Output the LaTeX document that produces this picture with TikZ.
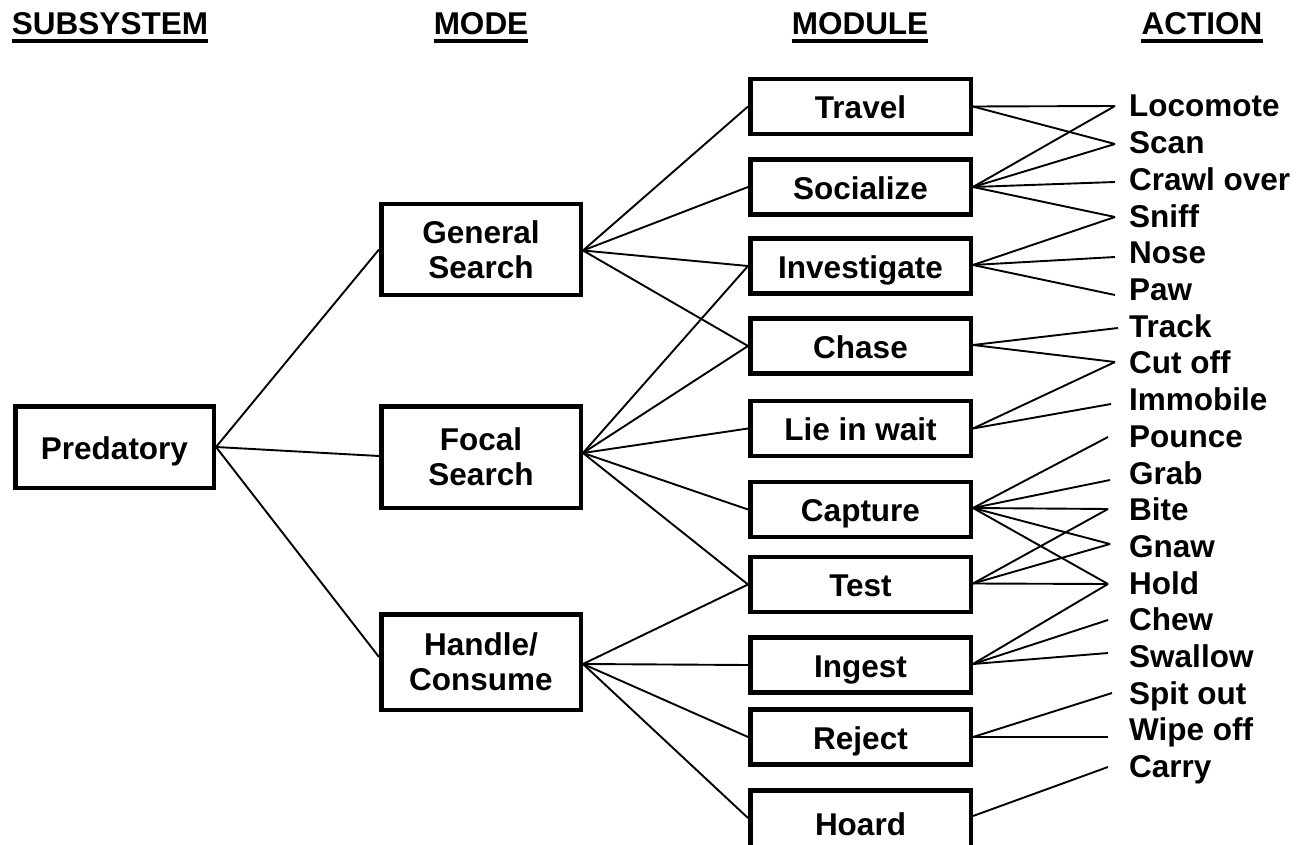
\documentclass[tikz,border=0pt]{standalone}
\usepackage{fontspec}
\setmainfont{Liberation Sans}
\begin{document}
\begin{tikzpicture}[x=1pt,y=-1pt,
  every node/.style={font=\fontsize{31.5}{35}\selectfont\bfseries},
  box/.style={draw, line width=4.5pt, inner sep=0pt, text height=24.6pt, text depth=0pt},
  modbox/.style={box, minimum width=220.5pt, minimum height=55pt},
  modebox/.style={draw, line width=4.5pt, inner sep=0pt, align=center, minimum width=199.5pt},
  act/.style={anchor=base west, inner sep=0pt},
  hdr/.style={anchor=base, inner sep=0pt},
  uline/.style={line width=3.5pt},
  link/.style={line width=1.9pt}
]
\useasboundingbox (0,0) rectangle (1299,845);

% column headings
\node[hdr] (h-sub) at (110,35) {SUBSYSTEM};
\node[hdr] (h-mode) at (481,35) {MODE};
\node[hdr] (h-mod) at (860,35) {MODULE};
\node[hdr] (h-act) at (1202,35) {ACTION};
\foreach \h in {h-sub,h-mode,h-mod,h-act}
  \draw[uline] ([yshift=-6pt]\h.base west) -- ([yshift=-6pt]\h.base east);

% subsystem
\node[box, minimum width=198.5pt, minimum height=81.5pt] (pred) at (114.5,447) {Predatory};

% modes
\node[modebox, minimum height=90.5pt] (gen) at (481,249.5) {General\\Search};
\node[modebox, minimum height=101.5pt] (foc) at (481,457) {Focal\\Search};
\node[modebox, minimum height=95.5pt] (hand) at (481,662) {Handle/\\Consume};

% modules
\node[modbox] (travel) at (860.5,106.5) {Travel};
\node[modbox] (social) at (860.5,187) {Socialize};
\node[modbox] (invest) at (860.5,266) {Investigate};
\node[modbox] (chase) at (860.5,346) {Chase};
\node[modbox] (lie) at (860.5,428.5) {Lie in wait};
\node[modbox] (capture) at (860.5,509.5) {Capture};
\node[modbox] (test) at (860.5,584.5) {Test};
\node[modbox] (ingest) at (860.5,665) {Ingest};
\node[modbox] (reject) at (860.5,737) {Reject};
% the last box runs past the lower edge of the page
\node[modbox, minimum height=62pt, text height=27pt] (hoard) at (860.5,821.5) {Hoard};

% actions
\node[act] (locomote) at (1129,117) {Locomote};
\node[act] (scan) at (1129,153.7) {Scan};
\node[act] (crawl) at (1129,190.4) {Crawl over};
\node[act] (sniff) at (1129,227.1) {Sniff};
\node[act] (nose) at (1129,263.8) {Nose};
\node[act] (paw) at (1129,300.5) {Paw};
\node[act] (track) at (1129,337.2) {Track};
\node[act] (cutoff) at (1129,373.9) {Cut off};
\node[act] (immobile) at (1129,410.6) {Immobile};
\node[act] (pounce) at (1129,447.3) {Pounce};
\node[act] (grab) at (1129,484) {Grab};
\node[act] (bite) at (1129,520.7) {Bite};
\node[act] (gnaw) at (1129,557.4) {Gnaw};
\node[act] (hold) at (1129,594.1) {Hold};
\node[act] (chew) at (1129,630.8) {Chew};
\node[act] (swallow) at (1129,667.5) {Swallow};
\node[act] (spit) at (1129,704.2) {Spit out};
\node[act] (wipe) at (1129,740.9) {Wipe off};
\node[act] (carry) at (1129,777.6) {Carry};

% line ends just left of each action
\coordinate (e-locomote) at (1115,106);
\coordinate (e-scan) at (1115,144);
\coordinate (e-crawl) at (1115,182);
\coordinate (e-sniff) at (1115,217);
\coordinate (e-nose) at (1115,257);
\coordinate (e-paw) at (1115,295);
\coordinate (e-track) at (1118,328);
\coordinate (e-cutoff) at (1115,362);
\coordinate (e-immobile) at (1111,404);
\coordinate (e-pounce) at (1108,437);
\coordinate (e-grab) at (1110,480);
\coordinate (e-bite) at (1108,509);
\coordinate (e-gnaw) at (1110,544);
\coordinate (e-hold) at (1108,584);
\coordinate (e-chew) at (1108,620);
\coordinate (e-swallow) at (1108,653);
\coordinate (e-spit) at (1112,693);
\coordinate (e-wipe) at (1108,737);
\coordinate (e-carry) at (1108,767);

% subsystem -> modes
\draw[link] (pred.east) -- (gen.west);
\draw[link] (pred.east) -- ([yshift=1pt]foc.west);
\draw[link] (pred.east) -- ([yshift=5pt]hand.west);

% modes -> modules
\foreach \m in {travel,social,invest,chase}
  \draw[link] ([yshift=-1pt]gen.east) -- (\m.west);
\foreach \m in {invest,chase,lie,capture,test}
  \draw[link] ([yshift=4pt]foc.east) -- (\m.west);
\foreach \m in {test,ingest,reject}
  \draw[link] ([yshift=-2pt]hand.east) -- (\m.west);
\draw[link] ([yshift=-2pt]hand.east) -- ([yshift=3.5pt]hoard.west);

% modules -> actions
\foreach \a in {locomote,scan}
  \draw[link] (travel.east) -- (e-\a);
\foreach \a in {locomote,scan,crawl,sniff}
  \draw[link] (social.east) -- (e-\a);
\foreach \a in {sniff,nose,paw}
  \draw[link] ([yshift=1pt]invest.east) -- (e-\a);
\foreach \a in {track,cutoff}
  \draw[link] ([yshift=1pt]chase.east) -- (e-\a);
\foreach \a in {cutoff,immobile}
  \draw[link] (lie.east) -- (e-\a);
\foreach \a in {pounce,grab,bite,gnaw,hold}
  \draw[link] ([yshift=1.5pt]capture.east) -- (e-\a);
\foreach \a in {bite,gnaw,hold}
  \draw[link] ([yshift=1pt]test.east) -- (e-\a);
\foreach \a in {hold,chew,swallow}
  \draw[link] ([yshift=1pt]ingest.east) -- (e-\a);
\foreach \a in {spit,wipe}
  \draw[link] (reject.east) -- (e-\a);
\draw[link] ([yshift=5.5pt]hoard.east) -- (e-carry);
\end{tikzpicture}
\end{document}
